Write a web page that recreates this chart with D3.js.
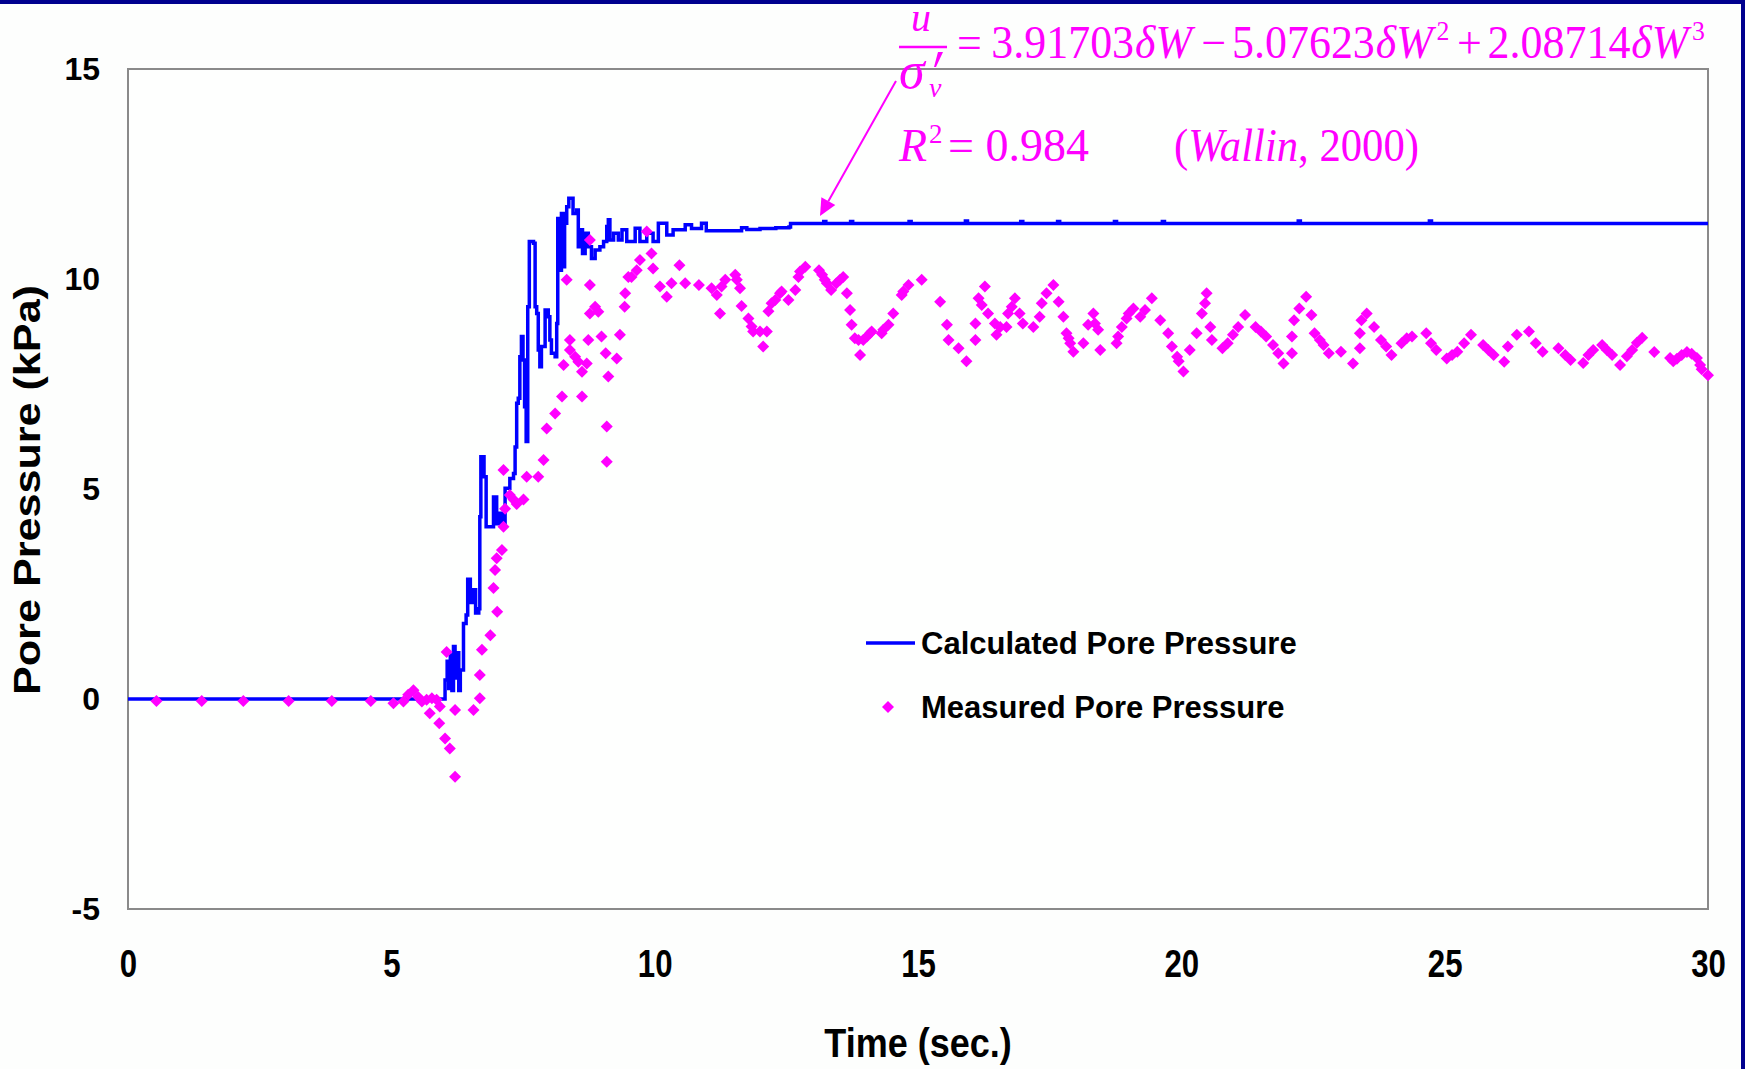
<!DOCTYPE html>
<html><head><meta charset="utf-8">
<script src="https://cdn.jsdelivr.net/npm/d3@7"></script>
<style>
html,body{margin:0;padding:0;background:#fdfefd;}
svg{display:block;}
</style></head>
<body>
<svg id="chart" width="1745" height="1069"></svg>
<script>
// Axis ticks
const xTicks = [0, 5, 10, 15, 20, 25, 30];
const yTicks = [-5, 0, 5, 10, 15];
const seriesNames = ["Calculated Pore Pressure", "Measured Pore Pressure"];

// Calculated pore pressure, [time (s), kPa]
const calcPoints = [
  [0,0],[5.98,0],[6.02,0.45],[6.06,0.9],[6.09,0.25],[6.12,1.05],[6.15,0.2],[6.18,1.25],[6.21,0.5],
  [6.25,1.1],[6.28,0.2],[6.31,0.69],[6.37,1.8],[6.42,2.0],[6.45,2.85],[6.5,2.3],[6.55,2.6],
  [6.6,2.05],[6.66,2.15],[6.68,4.34],[6.7,5.77],[6.76,5.29],[6.8,4.10],[6.87,4.10],[6.94,4.81],
  [7.00,4.17],[7.06,4.42],[7.10,4.15],[7.16,5.02],[7.25,5.25],[7.32,5.37],[7.35,6.0],[7.38,7.04],
  [7.41,7.16],[7.44,8.15],[7.47,8.63],[7.5,8.07],[7.53,6.96],[7.56,6.13],[7.59,9.34],[7.62,10.89],
  [7.70,10.85],[7.73,9.34],[7.76,9.18],[7.79,8.31],[7.82,7.91],[7.85,8.39],[7.92,9.26],[7.98,9.10],
  [8.01,8.55],[8.04,8.23],[8.11,8.15],[8.14,8.94],[8.16,11.44],[8.20,10.21],[8.23,11.56],[8.27,10.29],
  [8.29,11.33],[8.33,11.72],[8.37,11.92],[8.45,11.56],[8.52,11.64],[8.55,10.77],[8.59,11.17],
  [8.63,10.61],[8.68,11.09],[8.74,10.77],[8.80,10.49],[8.87,10.69],[8.96,10.77],[9.03,10.89],
  [9.09,11.25],[9.12,11.41],[9.15,10.93],[9.22,11.09],[9.31,10.93],[9.38,11.17],[9.47,10.89],
  [9.63,11.21],[9.72,10.89],[9.85,11.09],[9.97,10.89],[10.07,11.33],[10.15,11.33],[10.23,11.05],
  [10.35,11.17],[10.58,11.29],[10.70,11.2],[10.89,11.33],[10.98,11.15],[11.6,11.15],
  [11.65,11.22],[11.75,11.18],[12.0,11.2],[12.3,11.22],[12.55,11.24],[12.58,11.32],
  [13.21,11.37],[13.25,11.32],[13.72,11.37],[13.76,11.32],[14.83,11.37],[14.87,11.32],
  [15.9,11.38],[15.94,11.32],[16.95,11.37],[16.99,11.32],[17.65,11.37],[17.69,11.32],
  [18.73,11.37],[18.77,11.32],[19.64,11.37],[19.68,11.32],[22.22,11.38],[22.26,11.32],
  [24.71,11.38],[24.75,11.32],[30,11.32]
];

// Measured pore pressure, [time (s), kPa]
const measPoints = [
  [0.54,-0.05],[1.40,-0.05],[2.19,-0.05],[3.05,-0.05],[3.87,-0.05],[4.61,-0.05],
  [5.04,-0.10],[5.23,-0.06],[5.32,0.10],[5.42,0.21],[5.51,0.05],[5.58,-0.06],[5.67,-0.02],
  [5.73,-0.34],[5.77,0.02],[5.86,-0.02],[5.92,-0.18],[5.91,-0.58],[6.02,-0.94],[6.05,1.12],
  [6.11,-1.18],[6.21,-1.85],[6.21,-0.26],[6.56,-0.26],[6.68,0.02],[6.68,0.57],[6.72,1.17],
  [6.88,1.52],[6.94,2.64],[7.01,2.08],
  [6.97,3.07],[7.0,3.35],[7.10,3.55],[7.13,4.10],[7.16,4.53],[7.13,5.45],[7.25,4.86],[7.32,4.75],
  [7.38,4.64],[7.51,4.75],[7.57,5.29],[7.79,5.29],[7.89,5.69],[7.95,6.44],[8.11,6.80],[8.24,7.20],
  [8.27,7.95],[8.39,8.55],[8.39,8.31],[8.33,9.98],[8.49,8.15],[8.55,8.03],[8.62,7.79],[8.71,7.99],
  [8.62,7.20],[8.74,8.55],[8.77,9.18],[8.77,9.86],[8.77,10.93],[8.87,9.34],[8.93,9.22],[8.99,8.63],
  [9.07,8.23],[9.12,7.68],[9.09,6.49],[9.09,5.65],[9.28,8.11],[9.34,8.67],[9.43,9.34],[9.44,9.66],
  [9.50,10.05],[9.56,10.05],[9.66,10.21],[9.72,10.45],[9.85,11.13],[9.94,10.61],[9.97,10.25],
  [10.10,9.82],[10.23,9.58],[10.32,9.90],[10.47,10.33],[10.58,9.90],[10.84,9.86],
  [11.08,9.78],[11.18,9.62],[11.24,9.18],[11.27,9.82],[11.34,9.98],[11.53,10.10],[11.56,9.98],
  [11.62,9.78],[11.65,9.36],[11.78,9.06],[11.84,8.87],[11.87,8.75],[12.0,8.75],[12.06,8.39],
  [12.13,8.75],[12.16,9.23],[12.22,9.42],[12.29,9.50],[12.38,9.66],[12.41,9.70],[12.54,9.50],
  [12.67,9.74],[12.73,10.05],[12.76,10.18],[12.86,10.29],[13.12,10.21],[13.18,10.10],
  [13.23,9.98],[13.27,9.90],[13.35,9.74],[13.45,9.90],[13.52,9.98],[13.58,10.05],[13.65,9.66],
  [13.71,9.26],[13.74,8.91],[13.80,8.59],[13.87,8.55],[13.90,8.19],[13.96,8.55],[14.03,8.63],
  [14.09,8.71],[14.12,8.75],[14.31,8.71],[14.34,8.79],[14.44,8.91],[14.53,9.18],
  [14.69,9.62],[14.72,9.70],[14.82,9.86],[15.07,9.98],[15.42,9.46],[15.55,8.91],[15.58,8.55],
  [15.77,8.35],[15.92,8.04],[16.09,8.55],[16.09,8.94],[16.15,9.54],[16.27,9.82],[16.21,9.38],
  [16.33,9.18],[16.46,8.94],[16.49,8.67],[16.56,8.86],[16.68,8.86],[16.71,9.18],[16.78,9.34],
  [16.84,9.54],[16.93,9.18],[16.99,8.94],
  [17.19,8.86],[17.31,9.10],[17.35,9.42],[17.44,9.66],[17.57,9.86],[17.67,9.46],[17.76,9.10],
  [17.82,8.71],[17.86,8.59],[17.89,8.47],[17.95,8.27],[18.14,8.47],[18.23,8.91],[18.33,9.18],
  [18.36,8.94],[18.42,8.79],[18.46,8.31],[18.77,8.47],[18.80,8.63],[18.87,8.86],[18.96,9.06],
  [19.0,9.18],[19.09,9.30],[19.22,9.10],[19.31,9.26],
  [19.44,9.54],[19.60,9.02],[19.75,8.71],[19.82,8.39],[19.92,8.15],[19.95,8.04],[20.04,7.80],
  [20.16,8.31],[20.29,8.71],[20.39,9.18],[20.45,9.42],[20.48,9.66],[20.55,8.86],[20.58,8.55],
  [20.78,8.35],[20.88,8.47],[20.98,8.67],[21.08,8.86],[21.21,9.14],[21.41,8.86],[21.51,8.75],
  [21.61,8.63],[21.74,8.43],[21.84,8.23],[21.94,7.99],
  [22.10,8.23],[22.10,8.63],[22.14,9.02],[22.24,9.30],[22.37,9.58],[22.47,9.14],[22.53,8.71],
  [22.63,8.55],[22.70,8.43],[22.80,8.23],[23.03,8.27],[23.26,7.99],[23.39,8.35],[23.39,8.71],
  [23.42,9.02],[23.52,9.18],[23.66,8.86],[23.79,8.55],[23.89,8.39],[23.99,8.19],[24.18,8.47],
  [24.28,8.59],[24.38,8.63],[24.65,8.71],[24.74,8.47],
  [24.84,8.31],[25.04,8.11],[25.14,8.19],[25.24,8.27],[25.37,8.47],[25.50,8.67],[25.73,8.43],
  [25.83,8.31],[25.93,8.19],[26.13,8.03],
  [26.20,8.39],[26.37,8.67],[26.60,8.75],[26.73,8.47],[26.86,8.27],[27.16,8.35],[27.29,8.19],
  [27.39,8.07],[27.63,8.0],[27.73,8.19],[27.82,8.31],[27.99,8.43],[28.08,8.31],[28.18,8.19],
  [28.33,7.95],[28.46,8.16],[28.56,8.31],[28.65,8.48],[28.75,8.6],[28.98,8.26],[29.28,8.12],
  [29.34,8.04],[29.41,8.1],[29.5,8.19],[29.6,8.26],[29.69,8.22],[29.79,8.12],[29.85,7.95],
  [29.88,7.85],[30.0,7.71]
];

const W = 1745, H = 1069;
const plot = { left: 128, right: 1708, top: 69, bottom: 909 };
const BLUE = "#0000ff", MAGENTA = "#ff00ff", FRAME = "#8a8a8a", NAVY = "#00008e";
const SANS = "'Liberation Sans', Arial, sans-serif";
const SERIF = "'Liberation Serif', 'Times New Roman', serif";

const svg = d3.select("#chart");
svg.append("rect").attr("width", W).attr("height", H).attr("fill", "#fdfefd");

const x = d3.scaleLinear().domain([0, 30]).range([plot.left, plot.right]);
const y = d3.scaleLinear().domain([-5, 15]).range([plot.bottom, plot.top]);

// Plot frame
svg.append("rect")
  .attr("x", plot.left).attr("y", plot.top)
  .attr("width", plot.right - plot.left).attr("height", plot.bottom - plot.top)
  .attr("fill", "#fefffe").attr("stroke", FRAME).attr("stroke-width", 2);

// Y axis labels
const yAxis = svg.append("g")
  .attr("transform", `translate(${plot.left},0)`)
  .call(d3.axisLeft(y).tickValues(yTicks).tickSize(0).tickPadding(28).tickFormat(d => String(d)));
yAxis.select(".domain").remove();
yAxis.selectAll("text")
  .attr("font-family", SANS).attr("font-weight", "bold").attr("font-size", 32).attr("fill", "#000");

// X axis labels (narrow tall numerals)
const xAxis = svg.append("g")
  .attr("transform", `translate(0,${plot.bottom})`)
  .call(d3.axisBottom(x).tickValues(xTicks).tickSize(0).tickPadding(40).tickFormat(d => String(d)));
xAxis.select(".domain").remove();
xAxis.selectAll("text")
  .attr("font-family", SANS).attr("font-weight", "bold").attr("font-size", 39).attr("fill", "#000")
  .attr("transform", "scale(0.8,1)");

// Axis titles
const cx = (plot.left + plot.right) / 2;
svg.append("text")
  .attr("x", cx).attr("y", 1057)
  .attr("text-anchor", "middle")
  .attr("font-family", SANS).attr("font-weight", "bold").attr("font-size", 40)
  .attr("transform", `translate(${cx * 0.1},0) scale(0.9,1)`)
  .text("Time (sec.)");

svg.append("text")
  .attr("transform", "translate(40,490) rotate(-90)")
  .attr("text-anchor", "middle")
  .attr("font-family", SANS).attr("font-weight", "bold").attr("font-size", 36)
  .attr("textLength", 410).attr("lengthAdjust", "spacingAndGlyphs")
  .text("Pore Pressure (kPa)");

// Calculated series
const line = d3.line().curve(d3.curveStepAfter).x(d => x(d[0])).y(d => y(d[1]));
svg.append("path")
  .datum(calcPoints)
  .attr("d", line)
  .attr("fill", "none").attr("stroke", BLUE).attr("stroke-width", 3.5)
  .attr("stroke-linejoin", "miter");

// Measured series (diamonds)
const diamond = "M0,-6L6,0L0,6L-6,0Z";
svg.append("g").selectAll("path")
  .data(measPoints)
  .join("path")
  .attr("d", diamond)
  .attr("transform", d => `translate(${x(d[0])},${y(d[1])})`)
  .attr("fill", MAGENTA);

// Legend
const legend = svg.append("g");
legend.append("line").attr("x1", 866).attr("x2", 915).attr("y1", 643).attr("y2", 643)
  .attr("stroke", BLUE).attr("stroke-width", 3.5);
legend.append("path").attr("d", diamond).attr("transform", "translate(888,707)").attr("fill", MAGENTA);
legend.selectAll("text.lg")
  .data(seriesNames)
  .join("text")
  .attr("class", "lg")
  .attr("x", 921).attr("y", (d, i) => 643 + i * 64 + 11)
  .attr("font-family", SANS).attr("font-weight", "bold").attr("font-size", 31)
  .text(d => d);

// Fit equation annotation
const eq = svg.append("g").attr("fill", MAGENTA).attr("font-family", SERIF);
eq.append("text").attr("x", 921).attr("y", 31).attr("text-anchor", "middle")
  .attr("font-size", 40).attr("font-style", "italic").text("u");
eq.append("line").attr("x1", 899).attr("x2", 947).attr("y1", 47).attr("y2", 47)
  .attr("stroke", MAGENTA).attr("stroke-width", 2.5);
eq.append("text").attr("x", 899).attr("y", 88).attr("font-size", 52).attr("font-style", "italic").text("σ");
eq.append("path").attr("d", "M938,52L943,52L936,67L934,67Z");
eq.append("text").attr("x", 929).attr("y", 97).attr("font-size", 28).attr("font-style", "italic").text("v");

// Polynomial line, fitted to its span
const eqX0 = 957, eqX1 = 1705;
const eqLine = eq.append("text").attr("x", eqX0).attr("y", 58).attr("font-size", 46);
const parts = [
  { t: "=", dx: 0 }, { t: "3.91703", dx: 10 }, { t: "δW", it: true, dx: 1 },
  { t: "−", dx: 10 }, { t: "5.07623", dx: 6 }, { t: "δW", it: true, dx: 1 },
  { t: "2", sup: true, dx: 4 }, { t: "+", dx: 8, back: true }, { t: "2.08714", dx: 6 },
  { t: "δW", it: true, dx: 1 }, { t: "3", sup: true, dx: 4 }
];
parts.forEach(p => {
  const ts = eqLine.append("tspan").attr("dx", p.dx).text(p.t);
  if (p.it) ts.attr("font-style", "italic");
  if (p.sup) ts.attr("font-size", 27).attr("dy", -18);
  if (p.back) ts.attr("dy", 18);
});
const bb = eqLine.node().getBBox();
const sx = (eqX1 - eqX0) / (bb.x + bb.width - eqX0);
eqLine.attr("transform", `translate(${eqX0},0) scale(${sx},1) translate(${-eqX0},0)`);

eq.append("text").attr("x", 899).attr("y", 161).attr("font-size", 46).attr("font-style", "italic").text("R");
eq.append("text").attr("x", 929).attr("y", 143).attr("font-size", 27).text("2");
eq.append("text").attr("x", 948).attr("y", 161).attr("font-size", 46).text("= 0.984");
const wal = eq.append("text").attr("x", 1174).attr("y", 161).attr("font-size", 46)
  .attr("textLength", 245).attr("lengthAdjust", "spacingAndGlyphs");
wal.append("tspan").text("(");
wal.append("tspan").attr("font-style", "italic").text("Wallin");
wal.append("tspan").text(", 2000)");

// Arrow pointing at the calculated curve
const tip = [820, 216], tail = [896, 81];
const ang = Math.atan2(tip[1] - tail[1], tip[0] - tail[0]);
const hl = 17, hw = 8;
const base = [tip[0] - hl * Math.cos(ang), tip[1] - hl * Math.sin(ang)];
svg.append("line").attr("x1", tail[0]).attr("y1", tail[1]).attr("x2", base[0]).attr("y2", base[1])
  .attr("stroke", MAGENTA).attr("stroke-width", 2);
svg.append("path")
  .attr("d", `M${tip[0]},${tip[1]}L${base[0] + hw * Math.sin(ang)},${base[1] - hw * Math.cos(ang)}L${base[0] - hw * Math.sin(ang)},${base[1] + hw * Math.cos(ang)}Z`)
  .attr("fill", MAGENTA);

// Slide border
svg.append("rect").attr("x", 0).attr("y", 0).attr("width", W).attr("height", 4).attr("fill", NAVY);
svg.append("rect").attr("x", 1741).attr("y", 0).attr("width", 4).attr("height", H).attr("fill", NAVY);
</script>
</body></html>
